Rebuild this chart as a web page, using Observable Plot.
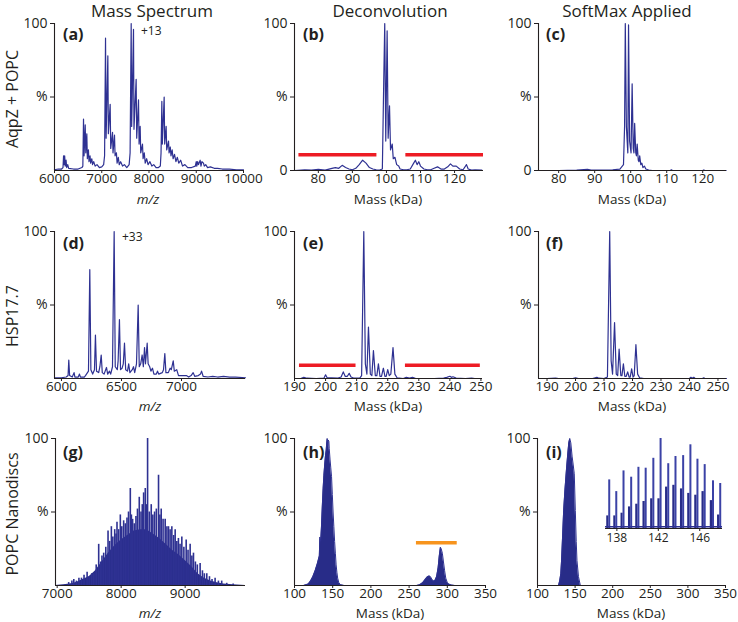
<!DOCTYPE html>
<html><head><meta charset="utf-8">
<script src="https://cdn.jsdelivr.net/npm/d3@7"></script>
<script src="https://cdn.jsdelivr.net/npm/@observablehq/plot@0.6"></script>
<style>
body{margin:0;background:#fff;}
#fig{position:relative;width:738px;height:622px;font-family:"Open Sans",sans-serif;color:#231f20;overflow:hidden;background:#fff}
.t{position:absolute;white-space:nowrap;transform:translate(-50%,-50%);line-height:1}
.rot{transform:translate(-50%,-50%) rotate(-90deg)}
svg{position:absolute;overflow:visible}
</style></head><body><div id="fig"></div>
<script>
// ---------- text ----------
const columnTitles = ["Mass Spectrum", "Deconvolution", "SoftMax Applied"];
const rowLabels = ["AqpZ + POPC", "HSP17.7", "POPC Nanodiscs"];
const panelLetters = ["(a)", "(b)", "(c)", "(d)", "(e)", "(f)", "(g)", "(h)", "(i)"];
const chargeLabels = ["+13", "+33"];
const xAxisTitles = ["m/z", "Mass (kDa)", "Mass (kDa)"];

// ---------- tick values ----------
const ticksA = [6000, 7000, 8000, 9000, 10000];
const ticksB = [80, 90, 100, 110, 120];
const ticksC = [80, 90, 100, 110, 120];
const ticksD = [6000, 6500, 7000];
const ticksE = [190, 200, 210, 220, 230, 240, 250];
const ticksF = [190, 200, 210, 220, 230, 240, 250];
const ticksG = [7000, 8000, 9000];
const ticksH = [100, 150, 200, 250, 300, 350];
const ticksI = [100, 150, 200, 250, 300, 350];
const ticksInset = [138, 142, 146];
const yTickValues = [0, 50, 100];
const yTickLabels = ["0", "%", "100"];

// ---------- series (x, relative intensity %) ----------
const specA = [[6000,0.5],[6080,1],[6150,1],[6180,2],[6192,10],[6202,4],[6215,10],[6228,3],[6245,7],[6258,2],[6280,4],[6300,1.5],[6400,1],[6500,1],[6580,2],[6600,3],
[6614,35],[6626,10],[6650,31],[6662,12],[6684,25],[6695,8],[6718,14],[6730,6],[6752,10],[6765,5],[6790,8],[6805,4],[6830,6],[6860,3],[6900,4],[6950,2],[7000,2.5],[7040,4],[7060,10],
[7080,90],[7092,22],[7129,78],[7140,25],[7178,45],[7190,15],[7228,26],[7238,12],[7270,24],[7282,10],[7310,12],[7325,5],[7350,9],[7370,4],[7400,6],[7440,3],[7480,4],[7530,2],[7580,4],[7600,12],
[7623,100],[7633,30],[7672,96],[7682,28],[7728,62],[7740,22],[7778,48],[7790,18],[7813,30],[7825,12],[7862,18],[7875,8],[7900,12],[7920,5],[7950,8],[7980,4],[8020,6],[8060,3],[8100,4],[8150,2],[8200,2],[8240,3],[8255,12],
[8272,47],[8282,18],[8321,50],[8332,18],[8363,30],[8375,14],[8413,20],[8425,12],[8450,16],[8465,10],[8490,14],[8510,8],[8540,11],[8570,6],[8600,9],[8630,5],[8670,7],[8710,3],[8760,4],[8820,2],[8900,2],[8980,3],[9000,6],[9012,3],
[9030,6],[9048,4],[9083,7],[9100,3],[9120,6],[9153,5],[9170,3],[9200,4],[9240,2],[9300,2.5],[9380,1.5],[9450,1.5],[9550,1],[9700,1],[9850,0.5],[10000,0.5]];

const specB = [[73,0],[76,0.5],[78,0.3],[80,0.8],[82,0.3],[84,1.5],[85,2],[86,1.5],[87,3.5],[88,2],[89,1],[90,0.5],[91,1.5],[92,4],[93,7],[94,5],[95,2],[96,1],[97,0.5],[98,0.3],[98.8,1],[99.2,60],[99.5,100],[99.8,20],[100.2,95],[100.5,22],[100.9,44],[101.2,14],[101.7,18],[102,8],[102.5,9],[103,4],[103.6,3],[104,1],[105,0.5],[106,0.5],[107,1],[108,5],[108.5,7],[109,4],[109.5,6],[110,3],[111,1],[112,0.5],[113,0.5],[114,1.5],[115,2.5],[116,1],[117,1],[118,2.5],[118.8,4.5],[119.5,3],[120.5,3],[121.5,1],[122.5,0.5],[123.5,4],[124,1],[125,0.3],[126,0.5],[128,0.2]];
const redBarsB = [[74.3,97.2,10.7],[105.7,128.5,10.7]];

const specC = [[74.5,0],[80,0],[85,0.2],[88,0.8],[89,0.2],[92,0.2],[95,0.5],[97,1],[98,4],[98.3,30],[98.5,100],[98.8,30],[99.2,12],[99.4,99],[99.7,20],[100.1,12],[100.4,59],[100.7,15],[100.9,12],[101.1,32],[101.4,12],[101.6,10],[101.8,18],[102.1,7],[102.3,6],[102.5,10],[102.8,4],[103.1,5],[103.4,2],[103.8,3],[104.2,1],[105,0.3],[106,0],[111,0],[111.3,0.5],[111.6,0],[120,0],[120.3,0.4],[120.6,0],[126.5,0]];

const specD = [[5942,0.5],[6000,0.5],[6040,1],[6055,2],[6061,12.5],[6068,2],[6090,1],[6105,4],[6112,1],[6140,1],[6150,3],[6158,1],[6190,1],[6200,2],[6225,5],[6236,74],[6245,6],[6260,3],[6275,6],[6283,29.5],[6292,5],[6310,4],[6320,8],[6331,16],[6340,4],[6355,3],[6375,7.5],[6385,3],[6400,5],[6410,3],[6425,8],[6439,100],[6448,8],[6465,6],[6472,12],[6483,40],[6492,6],[6505,7],[6515,10],[6525,24],[6535,6],[6550,5],[6560,10],[6570,4],[6590,6],[6600,8],[6610,4],[6625,10],[6639,50],[6648,8],[6660,10],[6672,16],[6682,8],[6692,21],[6700,10],[6714,24],[6722,10],[6735,8],[6745,5],[6758,7],[6770,3],[6790,3],[6800,5],[6810,3],[6840,4],[6850,6],[6861,17],[6870,4],[6890,4],[6905,7],[6915,6],[6931,12],[6940,5],[6960,6],[6975,2],[7000,2],[7040,2],[7060,1],[7080,2],[7097,4],[7110,1.5],[7140,2],[7158,3],[7167,5],[7180,1.5],[7220,1],[7260,1.5],[7300,1],[7350,1.5],[7400,1],[7450,1],[7533,0.5]];

const specE = [[190,0],[192,0],[193,0.8],[194,0.2],[197,0],[199.5,0.3],[200,2.5],[200.5,0.5],[202,0.5],[204,0.3],[205,1],[205.7,4.5],[206.3,1.5],[207,1.5],[207.6,3.5],[208.2,1],[209,0.3],[211,0.3],[211.6,2],[212.3,100],[212.8,10],[213.3,3],[213.8,35],[214.4,3],[214.9,2],[215.4,19],[216,2],[216.5,2],[217,10],[217.5,1.5],[218,1.5],[218.6,7],[219.1,1.5],[219.5,1.5],[220,6],[220.5,2],[221,3],[221.7,21],[222.3,3],[223,0.5],[225,0],[226,0.8],[227,0.3],[228,0.8],[229,0],[235,0],[238,0.3],[239,0.8],[240,1.5],[240.5,0.8],[241,1.2],[242,0.3],[245,0],[247,0.3],[248,0],[250,0]];
const redBarsE = [[191.6,209.8,9],[225.7,249.8,9]];

const specF = [[187,0],[190,0],[193,0.3],[194,0],[199,0],[200,0.5],[201,0],[206,0],[207.5,0.8],[208.2,0.2],[210,0],[211.2,1],[212,100],[212.5,12],[213,3],[213.7,38],[214.3,3],[214.8,2],[215.3,20],[215.9,2],[216.3,2],[216.8,10],[217.3,1.5],[217.8,1.5],[218.3,4.5],[218.8,1],[219.2,1],[219.7,6.5],[220.2,1],[220.6,2],[221.2,23],[221.8,3],[222.5,0.5],[224,0],[240,0],[240.5,0.8],[241,0.2],[241.5,0.8],[242,0],[244.5,0],[245,0.4],[245.5,0],[253,0]];

const envG = [[6974,0],[7100,0.5],[7200,1],[7300,2],[7400,4],[7500,6],[7600,10],[7700,16],[7800,22],[7900,27],[8000,31],[8100,34],[8200,37],[8300,38],[8400,38],[8500,35],[8600,32],[8700,28],[8800,24],[8900,21],[9000,17],[9100,13],[9200,8],[9300,5],[9400,3],[9500,1.8],[9600,1],[9750,0.5],[9943,0]];
const peaksG = [[7180,2],[7230,3],[7260,4],[7300,3],[7340,5],[7380,5],[7420,7],[7468,9],[7500,6],[7540,8],[7571,8],[7610,14],[7649,28],[7680,16],[7700,20],[7727,22],[7760,26],[7795,37],[7820,30],[7847,40],[7870,33],[7899,38],[7920,35],[7935,43],[7960,38],[7987,48],[8010,40],[8039,44],[8065,42],[8091,46],[8115,50],[8143,66],[8160,48],[8179,45],[8205,42],[8231,47],[8255,52],[8283,60],[8310,50],[8330,55],[8351,63],[8377,66],[8395,55],[8413,100],[8440,50],[8470,55],[8495,48],[8522,50],[8550,52],[8584,75],[8605,48],[8626,52],[8655,45],[8688,45],[8715,40],[8740,40],[8765,38],[8792,40],[8820,34],[8844,38],[8870,30],[8895,32],[8920,28],[8948,33],[8980,26],[9016,31],[9045,24],[9078,28],[9105,20],[9130,22],[9160,16],[9190,14],[9234,15],[9270,10],[9300,8],[9338,8],[9380,6],[9420,4],[9468,5],[9520,3],[9571,3],[9650,1.5],[9750,1]];

const shapeH = [[112,0],[118,1],[121,3],[124,6],[127,10],[130,15],[132.5,20],[133.2,33],[134.3,30],[135.3,40],[136.5,55],[137.5,66],[138.5,75],[139.5,82],[140.5,88],[141.5,92],[142.2,97],[142.8,100],[143.4,95],[144.2,99],[145,98],[145.5,93],[146.5,86],[147.5,80],[148.5,74],[149.5,62],[150.5,50],[151.5,40],[152.5,30],[153.5,22],[154.5,14],[155.5,9],[156.5,5],[158,2],[160,0.5],[165,0],[260,0],[264,0.5],[268,2],[271,4],[274,6],[276.4,6.5],[278,6],[280,4],[282,3],[284,3.5],[286,6],[288,12],[289.5,20],[291,26],[292,25],[293.5,22],[295,16],[296.5,10],[298,5],[300,2],[302,1],[305,0.3],[310,0],[350,0]];
const orangeBarH = [[259.6,313,29]];

const shapeI = [[128,0],[129.5,3],[131,8],[132,17],[133.5,35],[134.8,51],[136.5,65],[138.4,78],[140,88],[141.6,97],[142.9,100],[144.3,97],[146,88],[147.5,82],[148.9,76],[150.3,51],[151.5,30],[152.5,17],[154.5,6],[157,0]];

// inset of (i): tall spikes [kDa, %] and the dark blocks [start, end, %]
const insetSpikes = [[137.26,54],[137.94,41],[138.64,64],[139.38,57],[140.08,68],[140.78,67],[141.52,78],[142.22,100],[142.96,72],[143.66,80],[144.4,81],[145.1,93],[145.78,77],[146.48,71],[147.28,53],[147.98,50]];
const insetBlocks = [[137.02,137.22,14],[137.70,137.90,14],[138.40,138.60,17],[139.12,139.34,24],[139.82,140.04,27],[140.52,140.74,30],[141.26,141.48,33],[141.96,142.18,33],[142.70,142.92,46],[143.40,143.62,48],[144.14,144.36,44],[144.84,145.06,39],[145.52,145.74,37],[146.22,146.44,41],[147.02,147.24,31],[147.72,147.94,15]];

// ---------- drawing ----------
const INK = "#231f20", BLUE = "#2e3192", FILL = "#282c88";
const fig = document.getElementById("fig");
const FONT = '"Open Sans", sans-serif';
const xy = {x: d => d[0], y: d => d[1]};

function addText(txt, cx, cy, css) {
  const d = document.createElement("div");
  d.className = "t";
  d.textContent = txt;
  d.style.left = cx + "px"; d.style.top = cy + "px";
  Object.assign(d.style, css || {});
  fig.appendChild(d);
  return d;
}

function panel(cfg) {
  const ml = 50, mr = 16, mt = 10, mb = 30;
  const w = cfg.x1 - cfg.x0, h = cfg.y1 - cfg.y0;
  const ymap = new Map(yTickValues.map((v, i) => [v, yTickLabels[i]]));
  const svg = Plot.plot({
    width: ml + w + mr, height: mt + h + mb,
    marginLeft: ml, marginRight: mr, marginTop: mt, marginBottom: mb,
    style: {fontFamily: FONT, fontSize: "14px", color: INK, background: "transparent", overflow: "visible"},
    x: {domain: cfg.xDomain},
    y: {domain: [0, 100]},
    marks: [
      ...cfg.marks,
      Plot.ruleY([0], {stroke: INK, strokeWidth: 1.1}),
      Plot.ruleX([cfg.xDomain[0]], {stroke: INK, strokeWidth: 1.1}),
      Plot.axisX({ticks: cfg.xTicks, tickSize: 3, tickPadding: 0, label: null, fontSize: 13.5, tickFormat: d => String(d), stroke: INK}),
      Plot.axisY({ticks: cfg.yTicks, tickSize: 4, tickPadding: 3, label: null, fontSize: 14, tickFormat: d => ymap.get(d), stroke: INK})
    ]
  });
  svg.style.left = (cfg.x0 - ml) + "px";
  svg.style.top = (cfg.y0 - mt) + "px";
  fig.appendChild(svg);
}

function lineMarks(spec) { return [Plot.line(spec, {...xy, stroke: BLUE, strokeWidth: 1.2, curve: "linear"})]; }

panel({x0: 54, x1: 243, y0: 23, y1: 170, xDomain: [6000, 10000], xTicks: ticksA, yTicks: [50, 100], marks: lineMarks(specA)});
panel({x0: 294, x1: 483, y0: 23, y1: 170, xDomain: [73, 128.5], xTicks: ticksB, yTicks: [0, 50, 100], marks: [
  ...lineMarks(specB),
  Plot.ruleY(redBarsB, {x1: d => d[0], x2: d => d[1], y: d => d[2], stroke: "#ed1c24", strokeWidth: 3.5})
]});
panel({x0: 538, x1: 726, y0: 23, y1: 170, xDomain: [74.4, 126.6], xTicks: ticksC, yTicks: [0, 50, 100], marks: lineMarks(specC)});

panel({x0: 54, x1: 245, y0: 231, y1: 378, xDomain: [5942, 7533], xTicks: ticksD, yTicks: [50, 100], marks: lineMarks(specD)});
panel({x0: 294, x1: 482, y0: 231, y1: 378, xDomain: [190, 250.5], xTicks: ticksE, yTicks: [50, 100], marks: [
  ...lineMarks(specE),
  Plot.ruleY(redBarsE, {x1: d => d[0], x2: d => d[1], y: d => d[2], stroke: "#ed1c24", strokeWidth: 3.5})
]});
panel({x0: 538, x1: 726, y0: 231, y1: 378, xDomain: [187, 253], xTicks: ticksF, yTicks: [50, 100], marks: lineMarks(specF)});

panel({x0: 55, x1: 245, y0: 438, y1: 585, xDomain: [6974, 9943], xTicks: ticksG, yTicks: [50, 100], marks: [
  Plot.areaY(envG, {...xy, fill: FILL}),
  Plot.ruleX(peaksG, {x: d => d[0], y1: 0, y2: d => d[1], stroke: BLUE, strokeWidth: 1.6})
]});
panel({x0: 294, x1: 485, y0: 438, y1: 585, xDomain: [100, 350], xTicks: ticksH, yTicks: [50, 100], marks: [
  Plot.areaY(shapeH, {...xy, fill: FILL}),
  Plot.line(shapeH, {...xy, stroke: BLUE, strokeWidth: 1}),
  Plot.ruleY(orangeBarH, {x1: d => d[0], x2: d => d[1], y: d => d[2], stroke: "#f7941d", strokeWidth: 3.5})
]});
panel({x0: 537, x1: 725, y0: 438, y1: 585, xDomain: [100, 350], xTicks: ticksI, yTicks: [50, 100], marks: [
  Plot.areaY(shapeI, {...xy, fill: FILL}),
  Plot.line(shapeI, {...xy, stroke: BLUE, strokeWidth: 1})
]});

// inset
(function () {
  const ml = 2, mr = 2, mt = 2, mb = 22;
  const x0 = 605, x1 = 722, y0 = 438, y1 = 528;
  const svg = Plot.plot({
    width: ml + (x1 - x0) + mr, height: mt + (y1 - y0) + mb,
    marginLeft: ml, marginRight: mr, marginTop: mt, marginBottom: mb,
    style: {fontFamily: FONT, fontSize: "12px", color: INK, background: "transparent", overflow: "visible"},
    x: {domain: [136.9, 148.2]},
    y: {domain: [0, 100], axis: null},
    marks: [
      Plot.rectY(insetBlocks, {x1: d => d[0], x2: d => d[1], y1: 0, y2: d => d[2], fill: FILL}),
      Plot.ruleX(insetSpikes, {x: d => d[0], y1: 0, y2: d => d[1], stroke: "#3b42a6", strokeWidth: 2}),
      Plot.ruleY([2], {stroke: BLUE, strokeWidth: 1.5}),
      Plot.ruleY([0], {stroke: INK, strokeWidth: 1}),
      Plot.axisX({ticks: ticksInset, tickSize: 3, tickPadding: 2, label: null, fontSize: 12, tickFormat: d => String(d)})
    ]
  });
  svg.style.left = (x0 - ml) + "px";
  svg.style.top = (y0 - mt) + "px";
  fig.appendChild(svg);
})();

// titles and labels
const titleX = [152, 390, 627];
columnTitles.forEach((t, i) => addText(t, titleX[i], 10, {fontSize: "17px"}));
const rowY = [99, 316, 514];
rowLabels.forEach((t, i) => { const d = addText(t, 12, rowY[i], {fontSize: "16px"}); d.classList.add("rot"); });
const letterPos = [[63, 34], [303, 34], [546, 34], [63, 243], [303, 243], [546, 243], [63, 452], [303, 452], [546, 452]];
panelLetters.forEach((t, i) => { const d = addText(t, letterPos[i][0], letterPos[i][1], {fontSize: "16px", fontWeight: "bold"}); d.style.transform = "translate(0,-50%)"; });
const chargePos = [[141, 31], [122, 237]];
chargeLabels.forEach((t, i) => { const d = addText(t, chargePos[i][0], chargePos[i][1], {fontSize: "12px"}); d.style.transform = "translate(0,-50%)"; });
const axisTitleX = [[148, 388, 632], [150, 388, 632], [150, 390, 631]];
const axisTitleY = [200, 407, 613.5];
axisTitleY.forEach((y, r) => xAxisTitles.forEach((t, c) => addText(t, axisTitleX[r][c], y, {fontSize: "13.5px", fontStyle: c === 0 ? "italic" : "normal"})));
</script></body></html>
